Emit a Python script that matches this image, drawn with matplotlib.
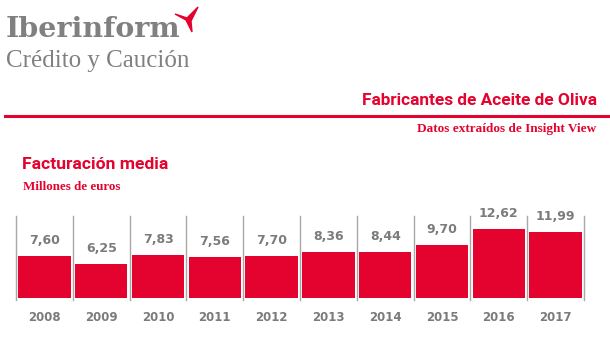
import matplotlib.pyplot as plt
from matplotlib.patches import Polygon

# datos
years = ['2008', '2009', '2010', '2011', '2012', '2013', '2014', '2015', '2016', '2017']
revenue = [7.60, 6.25, 7.83, 7.56, 7.70, 8.36, 8.44, 9.70, 12.62, 11.99]
value_labels = ['7,60', '6,25', '7,83', '7,56', '7,70', '8,36', '8,44', '9,70', '12,62', '11,99']

RED = '#e4032e'
GREY = '#7b7b7b'
W, H = 610, 355

fig = plt.figure(figsize=(W / 100, H / 100), dpi=100)
fig.patch.set_facecolor('white')

# cabecera / logo
fig.text(6 / W, 1 - 37 / H, 'Iberinform', fontsize=20.5, fontweight='bold',
         family='DejaVu Serif', color='#808080', va='baseline')
fig.text(6 / W, 1 - 67 / H, 'Crédito y Caución', fontsize=18,
         family='Liberation Serif', color='#808080', va='baseline')
bird = [(175, 14), (187, 18), (198, 7), (191, 21), (192, 32), (186, 20)]
fig.patches.append(Polygon([(x / W, 1 - y / H) for x, y in bird], closed=True,
                           transform=fig.transFigure, color=RED))

fig.text(597 / W, 1 - 100 / H, 'Fabricantes de Aceite de Oliva', fontsize=12.4,
         fontweight='bold', family='Roboto', color=RED, ha='right', va='center')
fig.add_artist(plt.Line2D([5 / W, 1], [1 - 116 / H] * 2, color=RED, lw=2.2,
                          transform=fig.transFigure))
fig.text(596 / W, 1 - 129 / H, 'Datos extraídos de Insight View', fontsize=9.5,
         fontweight='bold', family='Liberation Serif', color=RED, ha='right', va='center')

fig.text(22 / W, 1 - 164 / H, 'Facturación media', fontsize=12.6,
         fontweight='bold', family='Roboto', color=RED, va='center')
fig.text(23 / W, 1 - 187 / H, 'Millones de euros', fontsize=9.4,
         fontweight='bold', family='Liberation Serif', color=RED, va='center')

# grafico de barras
ax = fig.add_axes([16 / W, 1 - 298 / H, (584 - 16) / W, (298 - 216) / H])
x = range(len(years))
bars = ax.bar(x, revenue, width=0.92, color=RED, zorder=2)
ax.set_xlim(-0.5, len(years) - 0.5)
ax.set_ylim(0, 15)

for b in [i - 0.5 for i in range(len(years) + 1)]:
    ax.axvline(b, ymin=-0.03, ymax=1, color='#a8a8a8', lw=1, clip_on=False, zorder=1)

for rect, lab in zip(bars, value_labels):
    ax.annotate(lab, (rect.get_x() + rect.get_width() / 2, rect.get_height()),
                xytext=(0, 6.5), textcoords='offset points', ha='center', va='bottom',
                fontsize=9, fontweight='bold', color=GREY)

ax.set_xticks(list(x))
ax.set_xticklabels(years, fontsize=8.5, fontweight='bold', color=GREY)
ax.tick_params(axis='x', length=0, pad=9.5)
ax.set_yticks([])
for s in ax.spines.values():
    s.set_visible(False)

fig.savefig('out.png', dpi=100)
